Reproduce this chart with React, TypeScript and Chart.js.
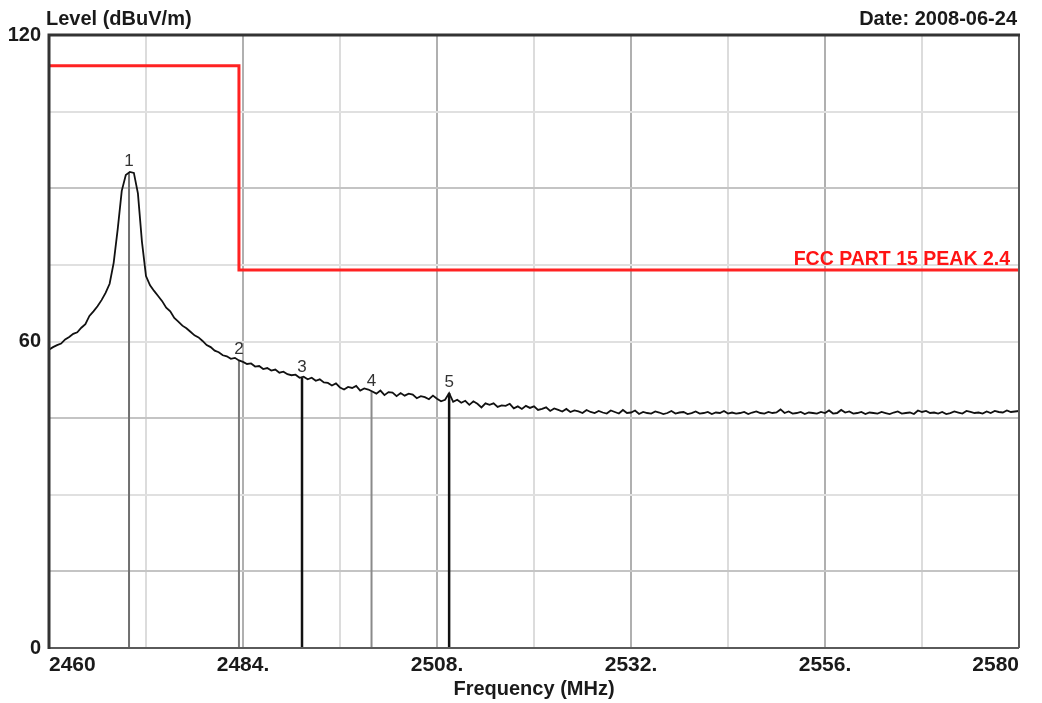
import React, { useEffect, useRef } from "react";
import { Chart, registerables } from "chart.js";

Chart.register(...registerables);

// ---- data ----
const sweepStartMHz = 2460;
const sweepStepMHz = 0.5;
const levelDbuv = [
  58.4, 58.9, 59.3, 59.6, 60.4, 60.9, 61.5, 61.8, 62.7, 63.4,
  65.0, 65.9, 66.9, 68.1, 69.5, 71.3, 75.4, 82.0, 89.5, 92.6,
  93.2, 93.0, 89.0, 79.5, 72.8, 71.0, 69.9, 68.9, 67.9, 66.6,
  65.9, 64.6, 63.9, 63.1, 62.6, 61.9, 61.2, 60.8, 60.1, 59.3,
  58.9, 58.2, 57.9, 57.3, 57.1, 56.6, 56.8, 56.3, 56.0, 55.6,
  55.7, 55.1, 55.2, 54.6, 54.8, 54.3, 54.5, 53.9, 54.1, 53.6,
  53.4, 53.5, 52.9, 53.1, 52.6, 52.9, 52.3, 52.6, 52.0, 51.9,
  51.4, 51.8, 51.0, 50.6, 51.1, 50.9, 51.3, 50.4, 50.8, 50.6,
  50.2, 49.8, 50.4, 49.5, 50.1, 50.0, 49.3, 49.9, 49.4, 49.8,
  49.6, 48.9, 49.3, 49.1, 48.7, 49.4, 48.8, 48.3, 48.6, 49.9,
  48.2, 48.6, 48.0, 48.4, 47.6, 48.3, 47.8, 47.1, 47.9, 47.6,
  47.9, 47.2, 47.5, 47.4, 47.8, 46.9, 47.3, 46.8, 47.4, 47.0,
  47.3, 46.6, 46.8, 47.1, 46.4, 46.9, 46.6, 46.3, 46.8, 46.2,
  46.5, 46.3, 46.0, 46.6, 46.2, 46.0, 46.4, 46.1, 45.9, 46.5,
  46.2, 45.9, 46.6, 46.0, 46.1, 46.5, 45.8, 46.2, 46.0, 45.9,
  46.3, 46.1, 45.8, 46.0, 46.4, 45.9, 46.1, 46.2, 45.8, 46.0,
  46.3, 45.9, 46.0, 46.2, 45.8, 46.1, 46.0, 46.4, 45.9, 46.1,
  45.9, 46.0, 46.2, 45.8, 46.1, 46.3, 46.0, 45.9, 46.2, 46.0,
  46.1, 46.7, 46.0, 46.3, 45.9, 46.0, 46.2, 45.8, 46.1, 46.0,
  45.9, 46.2, 46.0, 46.5, 45.9, 46.0, 46.6, 46.1, 46.3, 45.9,
  46.0, 46.2, 45.8, 46.1, 46.0, 45.9, 46.2, 46.0, 45.8, 46.1,
  46.3, 45.9, 46.0, 46.1, 45.8, 46.5, 46.2, 46.4, 46.0, 46.1,
  45.9, 46.2, 45.8, 46.0, 46.3, 46.1, 45.9, 46.4, 46.2, 46.0,
  46.1, 45.9, 46.3, 46.0, 46.4, 46.2, 46.1, 46.5, 46.2, 46.3,
  46.4,
];

const limitFreqs = [2460, 2483.5, 2483.5, 2580];
const limitLevels = [114, 114, 74, 74];
const limitName = "FCC PART 15 PEAK 2.4";

const markerNames = ["1", "2", "3", "4", "5"];
const markerFreqs = [2469.9, 2483.5, 2491.3, 2499.9, 2509.5];
const markerLevels = [93.1, 56.4, 52.9, 50.2, 49.9];

const xTickValues = [2460, 2484, 2508, 2532, 2556, 2580];
const xTickLabels = ["2460", "2484.", "2508.", "2532.", "2556.", "2580"];
const yTickValues = [0, 60, 120];
const yTickLabels = ["0", "60", "120"];

const yAxisTitle = "Level (dBuV/m)";
const xAxisTitle = "Frequency (MHz)";
const dateText = "Date: 2008-06-24";

// ---- styles ----
const FONT = '"Liberation Sans", Arial, sans-serif';
const markerColors = ["#707070", "#7a7a7a", "#111111", "#8a8a8a", "#111111"];
const markerWidths = [2, 2, 2.5, 2, 2.5];

const decorPlugin = {
  id: "decor",
  afterDraw(chart: any) {
    const { ctx, chartArea: a, scales } = chart;
    const xs = scales.x;
    const ys = scales.y;
    ctx.save();
    // frame
    ctx.strokeStyle = "#5a5a5a";
    ctx.lineWidth = 2;
    ctx.beginPath();
    ctx.moveTo(a.right, a.top);
    ctx.lineTo(a.right, a.bottom);
    ctx.stroke();
    ctx.beginPath();
    ctx.moveTo(a.left, a.bottom);
    ctx.lineTo(a.right, a.bottom);
    ctx.stroke();
    ctx.strokeStyle = "#333333";
    ctx.lineWidth = 3;
    ctx.beginPath();
    ctx.moveTo(a.left, a.bottom + 1);
    ctx.lineTo(a.left, a.top);
    ctx.lineTo(a.right + 1, a.top);
    ctx.stroke();

    // header texts
    ctx.fillStyle = "#1a1a1a";
    ctx.font = `bold 20px ${FONT}`;
    ctx.textBaseline = "alphabetic";
    ctx.textAlign = "left";
    ctx.fillText(yAxisTitle, 46, 25);
    ctx.textAlign = "right";
    ctx.fillText(dateText, 1017, 25);

    // limit label
    ctx.fillStyle = "#ff1414";
    ctx.font = `bold 19.5px ${FONT}`;
    ctx.textAlign = "right";
    ctx.fillText(limitName, a.right - 9, ys.getPixelForValue(limitLevels[limitLevels.length - 1]) - 5);

    // marker labels
    ctx.fillStyle = "#333333";
    ctx.font = `17px ${FONT}`;
    ctx.textAlign = "center";
    for (let i = 0; i < markerNames.length; i++) {
      const px = xs.getPixelForValue(markerFreqs[i]);
      const py = ys.getPixelForValue(markerLevels[i]);
      ctx.fillText(markerNames[i], px, py - 6);
    }
    ctx.restore();
  },
};

export default function App() {
  const ref = useRef<HTMLCanvasElement | null>(null);

  useEffect(() => {
    if (!ref.current) return;
    const trace = levelDbuv.map((v, i) => ({ x: sweepStartMHz + i * sweepStepMHz, y: v }));
    const limit = limitFreqs.map((f, i) => ({ x: f, y: limitLevels[i] }));
    const markerSets = markerFreqs.map((f, i) => ({
      label: "M" + markerNames[i],
      data: [
        { x: f, y: 0 },
        { x: f, y: markerLevels[i] },
      ],
      borderColor: markerColors[i],
      borderWidth: markerWidths[i],
      pointRadius: 0,
      tension: 0,
    }));

    const chart = new Chart(ref.current, {
      type: "line",
      data: {
        datasets: [
          {
            label: "Level",
            data: trace,
            borderColor: "#111111",
            borderWidth: 1.8,
            pointRadius: 0,
            tension: 0,
          },
          ...markerSets,
          {
            label: limitName,
            data: limit,
            borderColor: "#ff2222",
            borderWidth: 3,
            pointRadius: 0,
            tension: 0,
          },
        ],
      },
      options: {
        animation: false,
        responsive: false,
        events: [],
        layout: { padding: { top: 35, right: 23, left: 0, bottom: 0 } },
        plugins: { legend: { display: false }, tooltip: { enabled: false } },
        scales: {
          x: {
            type: "linear",
            min: 2460,
            max: 2580,
            afterFit: (s: any) => {
              s.height = 55;
            },
            border: { display: false },
            grid: {
              drawTicks: false,
              lineWidth: 2,
              color: (c: any) => {
                const v = c.tick ? c.tick.value : 0;
                return xTickValues.includes(v) ? "#b0b0b0" : "#dcdcdc";
              },
            },
            ticks: {
              stepSize: 12,
              autoSkip: false,
              maxRotation: 0,
              align: "inner",
              padding: 5,
              color: "#1a1a1a",
              font: { family: FONT, size: 21, weight: "bold" },
              callback: (v: any) => {
                const k = xTickValues.indexOf(Number(v));
                return k >= 0 ? xTickLabels[k] : "";
              },
            },
            title: {
              display: true,
              text: xAxisTitle,
              color: "#1a1a1a",
              font: { family: FONT, size: 20, weight: "bold" },
              padding: { top: 0, bottom: 2 },
            },
          },
          y: {
            type: "linear",
            min: 0,
            max: 120,
            afterFit: (s: any) => {
              s.width = 49;
            },
            border: { display: false },
            grid: {
              drawTicks: false,
              lineWidth: 2,
              color: (c: any) => {
                const v = c.tick ? c.tick.value : 0;
                return v === 90 || v === 45 || v === 15 ? "#c4c4c4" : "#e0e0e0";
              },
            },
            ticks: {
              stepSize: 15,
              autoSkip: false,
              padding: 8,
              color: "#1a1a1a",
              font: { family: FONT, size: 20, weight: "bold" },
              callback: (v: any) => {
                const k = yTickValues.indexOf(Number(v));
                return k >= 0 ? yTickLabels[k] : "";
              },
            },
          },
        },
      },
      plugins: [decorPlugin],
    } as any);

    return () => chart.destroy();
  }, []);

  return (
    <div style={{ position: "fixed", left: 0, top: 0, width: 1042, height: 703, background: "#fff" }}>
      <canvas ref={ref} width={1042} height={703} style={{ display: "block" }} />
    </div>
  );
}
